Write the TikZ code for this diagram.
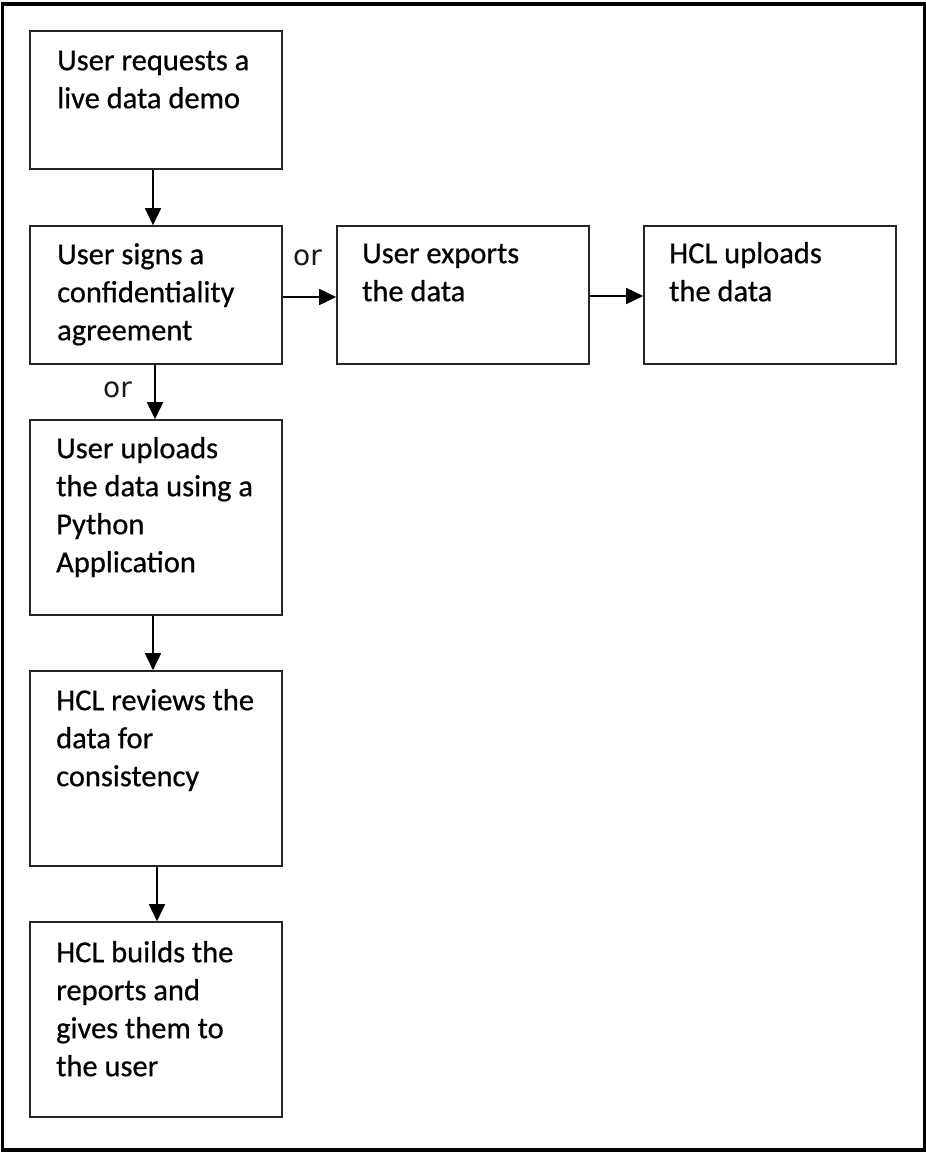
\documentclass[tikz,border=0pt]{standalone}
\usepackage{fontspec}
\setmainfont{Carlito}
\newfontfamily\boxfont[FakeBold=0.6]{Carlito}
\newfontfamily\orfont{DejaVu Sans}
\usetikzlibrary{arrows.meta}
\newcommand{\fl}{\rule{0pt}{25pt}}
\begin{document}
\begin{tikzpicture}[x=1pt,y=-1pt,
  stepbox/.style={draw=black!85, line width=1.6pt, inner sep=0pt, fill=white},
  txt/.style={anchor=north west, inner sep=0pt, align=left, text=black,
    font=\boxfont\fontsize{30.5}{38}\selectfont},
  orlab/.style={anchor=base west, inner sep=0pt, text=black!90, font=\orfont\fontsize{28}{34}\selectfont},
  conn/.style={line width=1.6pt, -{Triangle[length=17pt,width=16pt]}}]
\useasboundingbox (0,0) rectangle (926,1152);
\draw[line width=3.5pt] (2.5,4) rectangle (924.5,1150);
% boxes
\node[stepbox, minimum width=252pt, minimum height=138pt] (b1) at (156,100) {};
\node[stepbox, minimum width=252pt, minimum height=138pt] (b2) at (156,295) {};
\node[stepbox, minimum width=252pt, minimum height=138pt] (b3) at (463,295) {};
\node[stepbox, minimum width=252pt, minimum height=138pt] (b4) at (770,295) {};
\node[stepbox, minimum width=252pt, minimum height=195pt] (b5) at (156,517.5) {};
\node[stepbox, minimum width=252pt, minimum height=195pt] (b6) at (156,768.5) {};
\node[stepbox, minimum width=252pt, minimum height=195pt] (b7) at (156,1019.5) {};
% texts
\node[txt] (t1) at (57,45) {\fl User requests a\\live data demo};
\node[txt] (t2) at (57,239) {\fl User signs a\\confidentiality\\agreement};
\node[txt] (t3) at (362,238) {\fl User exports\\the data};
\node[txt] (t4) at (669,238) {\fl HCL uploads\\the data};
\node[txt] (t5) at (56,433) {\fl User uploads\\the data using a\\Python\\Application};
\node[txt] (t6) at (56,685) {\fl HCL reviews the\\data for\\consistency};
\node[txt] (t7) at (56,937) {\fl HCL builds the\\reports and\\gives them to\\the user};
% or labels
\node[orlab] (or1) at (293,265) {or};
\node[orlab] (or2) at (103,397) {or};
% connectors
\draw[conn] ([xshift=-3pt]b1.south) -- ([xshift=-3pt]b2.north);
\draw[conn] ([xshift=-1pt]b2.south) -- ([xshift=-1pt]b5.north);
\draw[conn] ([xshift=-3pt]b5.south) -- ([xshift=-3pt]b6.north);
\draw[conn] ([xshift=1pt]b6.south) -- ([xshift=1pt]b7.north);
\draw[conn] ([yshift=-2pt]b2.east) -- ([yshift=-2pt]b3.west);
\draw[conn] ([yshift=-1pt]b3.east) -- ([yshift=-1pt]b4.west);
\end{tikzpicture}
\end{document}
